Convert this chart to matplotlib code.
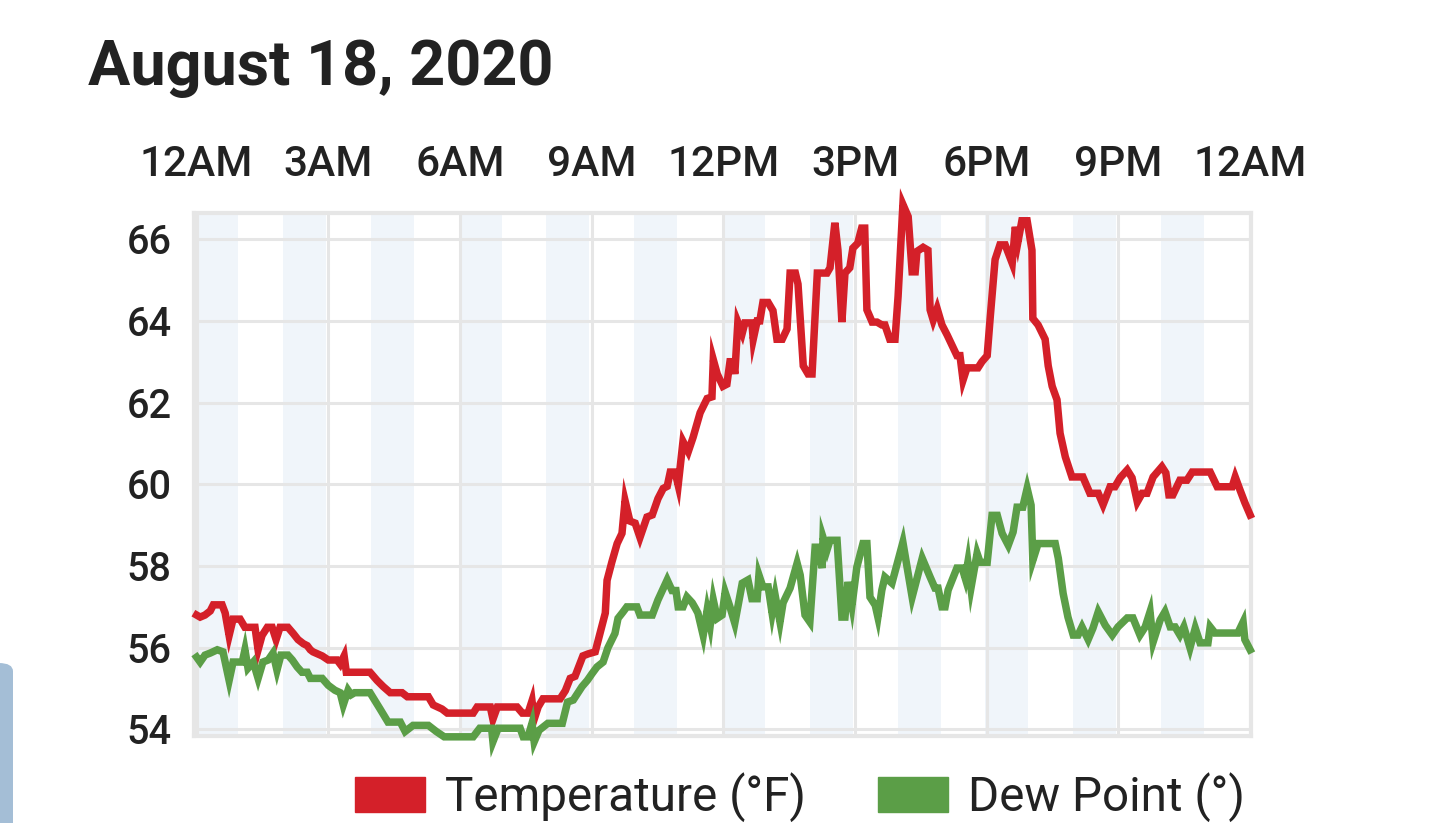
import matplotlib
matplotlib.use("Agg")
import matplotlib.pyplot as plt
from matplotlib.patches import Patch, FancyBboxPatch

plt.rcParams['font.family'] = ['Roboto', 'DejaVu Sans']

# hours since midnight and readings (deg F)
temp_h = [0.00, 0.08, 0.19, 0.31, 0.38, 0.58, 0.65, 0.74, 0.83, 0.99, 1.10, 1.33, 1.40, 1.49,
          1.61, 1.72, 1.81, 1.90, 2.08, 2.20, 2.31, 2.43, 2.52, 2.59, 2.65, 2.86, 3.00, 3.20,
          3.27, 3.36, 3.41, 3.50, 3.95, 4.11, 4.25, 4.41, 4.68, 4.80, 5.28, 5.39, 5.59, 5.71,
          6.30, 6.39, 6.69, 6.75, 6.85, 7.30, 7.42, 7.55, 7.64, 7.69, 7.78, 7.89, 8.28, 8.40,
          8.51, 8.62, 8.80, 8.92, 9.08, 9.19, 9.31, 9.35, 9.46, 9.58, 9.69, 9.76, 9.87, 9.99,
          10.10, 10.26, 10.38, 10.51, 10.63, 10.72, 10.79, 10.90, 10.97, 11.04, 11.08, 11.20,
          11.31, 11.47, 11.63, 11.74, 11.77, 11.86, 11.99, 12.08, 12.15, 12.22, 12.26, 12.33,
          12.43, 12.49, 12.65, 12.68, 12.77, 12.83, 12.90, 13.02, 13.13, 13.22, 13.34, 13.45,
          13.52, 13.64, 13.70, 13.82, 13.93, 14.02, 14.14, 14.36, 14.43, 14.54, 14.61, 14.70,
          14.77, 14.88, 14.95, 15.06, 15.15, 15.22, 15.27, 15.39, 15.50, 15.61, 15.68, 15.79,
          15.91, 15.98, 16.09, 16.21, 16.30, 16.37, 16.41, 16.55, 16.66, 16.71, 16.78, 16.87,
          16.98, 17.10, 17.21, 17.32, 17.39, 17.46, 17.55, 17.80, 17.89, 18.01, 18.08, 18.19,
          18.30, 18.42, 18.58, 18.65, 18.71, 18.80, 18.92, 19.03, 19.05, 19.17, 19.33, 19.40,
          19.49, 19.60, 19.67, 19.79, 19.94, 20.19, 20.35, 20.54, 20.65, 20.81, 20.92, 21.04,
          21.20, 21.31, 21.43, 21.54, 21.65, 21.79, 21.99, 22.08, 22.15, 22.24, 22.40, 22.56,
          22.68, 23.09, 23.25, 23.59, 23.66, 23.77, 23.88, 24.00]
temp_v = [56.8, 56.75, 56.8, 56.9, 57.05, 57.05, 56.85, 56.3, 56.7, 56.7, 56.5, 56.5, 55.95, 56.3,
          56.5, 56.5, 56.2, 56.5, 56.5, 56.35, 56.2, 56.1, 56.05, 55.95, 55.9, 55.8, 55.7, 55.7,
          55.6, 55.8, 55.4, 55.4, 55.4, 55.2, 55.05, 54.9, 54.9, 54.8, 54.8, 54.6, 54.5, 54.4,
          54.4, 54.55, 54.55, 54.25, 54.55, 54.55, 54.4, 54.4, 54.7, 54.25, 54.55, 54.75, 54.75, 54.95,
          55.25, 55.3, 55.8, 55.85, 55.9, 56.35, 56.85, 57.65, 58.1, 58.55, 58.8, 59.6, 59.1, 59.05,
          58.7, 59.2, 59.25, 59.65, 59.9, 59.95, 60.3, 60.3, 59.98, 60.65, 61.05, 60.8,
          61.15, 61.75, 62.1, 62.14, 63.05, 62.7, 62.4, 62.45, 63.0, 63.0, 62.7, 63.97,
          63.7, 63.95, 63.95, 63.55, 64.0, 64.0, 64.45, 64.45, 64.25, 63.55, 63.55, 63.8,
          65.17, 65.17, 64.9, 62.9, 62.7, 62.7, 65.17, 65.17, 65.3, 66.4, 65.73, 63.97,
          65.17, 65.3, 65.78, 65.9, 66.27, 66.27, 64.27, 63.97, 63.97, 63.9, 63.9, 63.55,
          63.55, 64.6, 66.85, 66.55, 65.2, 65.2, 65.7, 65.8, 65.73, 64.27, 64.02, 64.3,
          63.9, 63.65, 63.4, 63.15, 63.15, 62.55, 62.85, 62.85, 63.0, 63.15, 64.1, 65.5,
          65.86, 65.86, 65.41, 66.3, 65.93, 66.45, 66.45, 65.73, 64.06, 63.9, 63.55, 62.9,
          62.4, 62.07, 61.25, 60.67, 60.18, 60.18, 59.78, 59.78, 59.5, 59.94, 59.94, 60.16,
          60.35, 60.16, 59.57, 59.78, 59.78, 60.18, 60.43, 60.28, 59.74, 59.74, 60.1, 60.1,
          60.3, 60.3, 59.94, 59.94, 60.18, 59.86, 59.55, 59.25]

dew_h = [0.00, 0.08, 0.19, 0.31, 0.47, 0.60, 0.74, 0.83, 1.04, 1.10, 1.17, 1.29, 1.40, 1.51,
         1.63, 1.74, 1.83, 1.92, 2.08, 2.18, 2.29, 2.40, 2.52, 2.59, 2.86, 3.00, 3.15, 3.27,
         3.34, 3.45, 3.52, 3.60, 3.95, 4.18, 4.36, 4.64, 4.75, 4.93, 5.28, 5.46, 5.64, 6.30,
         6.45, 6.72, 6.75, 6.87, 7.37, 7.44, 7.55, 7.64, 7.69, 7.80, 8.00, 8.33, 8.45, 8.58,
         8.78, 8.90, 9.01, 9.12, 9.26, 9.37, 9.53, 9.60, 9.71, 9.80, 10.03, 10.10, 10.38, 10.51,
         10.72, 10.83, 10.92, 10.97, 11.08, 11.17, 11.29, 11.36, 11.42, 11.54, 11.63, 11.70,
         11.77, 11.86, 11.97, 12.04, 12.15, 12.26, 12.43, 12.56, 12.65, 12.77, 12.81, 12.90,
         13.02, 13.11, 13.18, 13.29, 13.36, 13.52, 13.68, 13.75, 13.86, 13.97, 14.09, 14.16,
         14.25, 14.27, 14.36, 14.43, 14.59, 14.70, 14.77, 14.84, 14.93, 15.04, 15.18, 15.27,
         15.34, 15.46, 15.52, 15.61, 15.68, 15.84, 16.09, 16.30, 16.53, 16.71, 16.82, 16.89,
         16.98, 17.05, 17.12, 17.32, 17.44, 17.51, 17.57, 17.64, 17.78, 17.85, 18.01, 18.12,
         18.24, 18.35, 18.49, 18.60, 18.69, 18.82, 18.92, 19.01, 19.05, 19.17, 19.56, 19.63,
         19.74, 19.85, 19.97, 20.08, 20.17, 20.31, 20.42, 20.54, 20.70, 20.86, 20.99, 21.20,
         21.33, 21.49, 21.61, 21.72, 21.79, 21.95, 22.06, 22.18, 22.29, 22.40, 22.49, 22.63,
         22.75, 22.86, 23.04, 23.09, 23.20, 23.72, 23.84, 23.88, 24.00]
dew_v = [55.77, 55.65, 55.82, 55.87, 55.95, 55.9, 55.2, 55.65, 55.65, 55.95, 55.5, 55.65, 55.25, 55.65,
         55.7, 55.87, 55.45, 55.82, 55.82, 55.7, 55.53, 55.4, 55.4, 55.25, 55.25, 55.08, 54.96, 54.9,
         54.6, 54.96, 54.85, 54.9, 54.9, 54.5, 54.18, 54.18, 53.95, 54.1, 54.1, 53.95, 53.82, 53.82,
         54.03, 54.03, 53.7, 54.03, 54.03, 53.82, 53.82, 54.15, 53.7, 53.98, 54.15, 54.15, 54.67, 54.72,
         55.05, 55.2, 55.37, 55.53, 55.65, 56.0, 56.35, 56.72, 56.87, 57.0, 57.0, 56.8, 56.8, 57.17,
         57.66, 57.4, 57.4, 57.0, 57.0, 57.24, 57.1, 56.97, 56.85, 56.3, 56.92, 56.55,
         57.17, 56.72, 56.8, 57.36, 57.0, 56.6, 57.58, 57.66, 57.2, 57.2, 57.78, 57.49,
         57.49, 56.85, 57.28, 56.63, 57.1, 57.46, 58.07, 57.78, 56.8, 56.63, 58.46, 58.46,
         57.95, 58.7, 58.39, 58.63, 58.63, 56.75, 56.75, 57.61, 57.04, 57.97, 58.55, 58.55,
         57.24, 57.04, 56.75, 57.41, 57.73, 57.58, 58.58, 57.24, 58.19, 57.73, 57.46, 57.46,
         57.0, 57.0, 57.41, 57.95, 57.95, 57.7, 58.09, 57.46, 58.31, 58.09, 58.09, 59.24,
         59.24, 58.8, 58.51, 58.83, 59.44, 59.44, 59.9, 59.49, 58.14, 58.55, 58.55, 58.19,
         57.33, 56.75, 56.31, 56.31, 56.51, 56.2, 56.48, 56.88, 56.55, 56.31, 56.51, 56.73,
         56.73, 56.31, 56.51, 56.88, 56.14, 56.68, 56.88, 56.51, 56.51, 56.31, 56.51, 56.0,
         56.48, 56.12, 56.12, 56.51, 56.36, 56.36, 56.63, 56.2, 55.95]

tick_hours = [0, 3, 6, 9, 12, 15, 18, 21, 24]
tick_labels = ['12AM', '3AM', '6AM', '9AM', '12PM', '3PM', '6PM', '9PM', '12AM']
y_ticks = [54, 56, 58, 60, 62, 64, 66]

red = '#d42029'
green = '#5b9e47'
grid_c = '#e6e6e6'
text_c = '#222222'

fig = plt.figure(figsize=(14.4, 8.23), dpi=100)
ax = fig.add_axes([194/1440, 1-736/823, (1251-194)/1440, (736-213)/823])

# shaded alternate hours
for k in range(0, 24, 2):
    ax.axvspan(k - 0.03, k + 0.95, color='#f0f5fa', lw=0, zorder=0)

ax.plot(temp_h, temp_v, color=red, lw=5.4, solid_joinstyle='miter', clip_on=False, zorder=3)
ax.plot(dew_h, dew_v, color=green, lw=5.4, solid_joinstyle='miter', clip_on=False, zorder=3)

ax.set_xlim(-0.06, 24.02)
ax.set_ylim(53.84, 66.64)
ax.set_xticks(tick_hours)
ax.set_xticklabels(tick_labels)
ax.set_yticks(y_ticks)
ax.xaxis.tick_top()
ax.tick_params(axis='x', length=0, pad=20, labelsize=30.5, colors=text_c)
ax.tick_params(axis='y', length=0, pad=16, labelsize=28.5, colors=text_c)
for lab in ax.get_xticklabels() + ax.get_yticklabels():
    lab.set_fontweight('medium')
ax.grid(True, color=grid_c, lw=2.2, zorder=1)
ax.set_axisbelow(True)
for s in ax.spines.values():
    s.set_color(grid_c)
    s.set_linewidth(3)

fig.text(88/1440, 1-85/823, 'August 18, 2020', fontsize=45.3, fontweight='bold',
         color=text_c, va='baseline', ha='left')

handles = [Patch(color=red, label='Temperature (°F)'), Patch(color=green, label='Dew Point (°)')]
fig.legend(handles=handles, loc='center', bbox_to_anchor=(800/1440, 1-797/823), ncol=2,
           frameon=False, fontsize=34.3, handlelength=1.47, handleheight=0.74,
           handletextpad=0.42, columnspacing=1.5, borderpad=0, labelcolor=text_c)

# edge of a neighbouring card on the screenshot
fig.patches.append(FancyBboxPatch((-20/1440, -20/823), 33/1440, (823-663+20)/823,
                                  boxstyle='round,pad=0,rounding_size=0.01',
                                  transform=fig.transFigure, color='#a4bed6', lw=0))

fig.savefig('out.png', dpi=100)
